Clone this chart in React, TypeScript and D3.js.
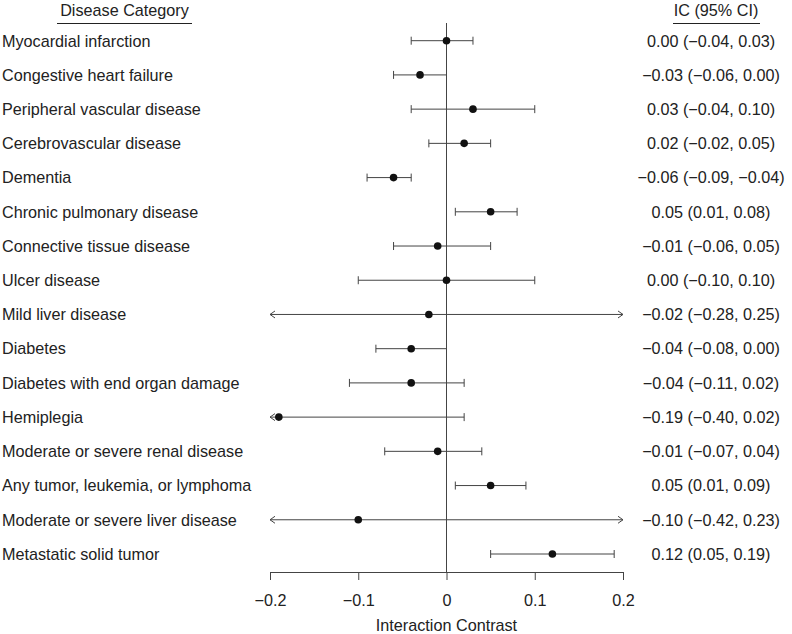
import React, { useEffect, useRef } from "react";
import * as d3 from "d3";

const categories = [
  "Myocardial infarction",
  "Congestive heart failure",
  "Peripheral vascular disease",
  "Cerebrovascular disease",
  "Dementia",
  "Chronic pulmonary disease",
  "Connective tissue disease",
  "Ulcer disease",
  "Mild liver disease",
  "Diabetes",
  "Diabetes with end organ damage",
  "Hemiplegia",
  "Moderate or severe renal disease",
  "Any tumor, leukemia, or lymphoma",
  "Moderate or severe liver disease",
  "Metastatic solid tumor",
];
const estimates = [0.0, -0.03, 0.03, 0.02, -0.06, 0.05, -0.01, 0.0, -0.02, -0.04, -0.04, -0.19, -0.01, 0.05, -0.1, 0.12];
const lowers = [-0.04, -0.06, -0.04, -0.02, -0.09, 0.01, -0.06, -0.1, -0.28, -0.08, -0.11, -0.4, -0.07, 0.01, -0.42, 0.05];
const uppers = [0.03, 0.0, 0.1, 0.05, -0.04, 0.08, 0.05, 0.1, 0.25, 0.0, 0.02, 0.02, 0.04, 0.09, 0.23, 0.19];
const xTicks = [-0.2, -0.1, 0, 0.1, 0.2];

const W = 792;
const H = 634;
const FONT = "'Liberation Sans', Arial, Helvetica, sans-serif";
const FS = 16.2;
const INK = "#222";
const LINE = "#444";

const fmt = (v: number, d = 2) => {
  const s = Math.abs(v).toFixed(d);
  return (v < -0.00001 ? "\u2212" : "") + s;
};
const tickFmt = (v: number) => (v === 0 ? "0" : (v < 0 ? "\u2212" : "") + Math.abs(v).toFixed(1));

export default function App() {
  const ref = useRef<SVGSVGElement>(null);

  useEffect(() => {
    const svg = d3.select(ref.current);
    svg.selectAll("*").remove();

    const x = d3.scaleLinear().domain([-0.2, 0.2]).range([270, 623]);
    const y = d3.scalePoint<string>().domain(categories).range([40.7, 554]);
    const axisY = 572;
    const [xmin, xmax] = x.domain();

    const rows = categories.map((c, i) => ({
      cat: c,
      est: estimates[i],
      lo: lowers[i],
      hi: uppers[i],
    }));

    // headers
    const head = svg.append("g").attr("font-family", FONT).attr("font-size", FS).attr("fill", INK);
    head.append("text").attr("x", 124.5).attr("y", 16).attr("text-anchor", "middle").text("Disease Category");
    head.append("line").attr("x1", 57).attr("x2", 192).attr("y1", 23.5).attr("y2", 23.5).attr("stroke", INK);
    head.append("text").attr("x", 716).attr("y", 16).attr("text-anchor", "middle").text("IC (95% CI)");
    head.append("line").attr("x1", 673).attr("x2", 760).attr("y1", 23.5).attr("y2", 23.5).attr("stroke", INK);

    // zero line
    svg
      .append("line")
      .attr("x1", x(0))
      .attr("x2", x(0))
      .attr("y1", 23)
      .attr("y2", axisY)
      .attr("stroke", LINE)
      .attr("stroke-width", 1);

    // labels
    svg
      .append("g")
      .attr("font-family", FONT)
      .attr("font-size", FS)
      .attr("fill", INK)
      .selectAll("text")
      .data(rows)
      .join("text")
      .attr("x", 2)
      .attr("y", (d) => (y(d.cat) as number) + 5.8)
      .text((d) => d.cat);

    svg
      .append("g")
      .attr("font-family", FONT)
      .attr("font-size", FS)
      .attr("fill", INK)
      .attr("text-anchor", "middle")
      .selectAll("text")
      .data(rows)
      .join("text")
      .attr("x", 711)
      .attr("y", (d) => (y(d.cat) as number) + 5.8)
      .text((d) => `${fmt(d.est)} (${fmt(d.lo)}, ${fmt(d.hi)})`);

    // CI lines
    const ci = svg.append("g").attr("stroke", LINE).attr("stroke-width", 1).attr("fill", "none");
    rows.forEach((d) => {
      const cy = y(d.cat) as number;
      const lo = Math.max(d.lo, xmin);
      const hi = Math.min(d.hi, xmax);
      ci.append("line").attr("x1", x(lo)).attr("x2", x(hi)).attr("y1", cy).attr("y2", cy);
      const cap = 4;
      const arrow = 5;
      if (d.lo < xmin) {
        ci.append("path").attr("d", `M${x(lo) + arrow},${cy - arrow * 0.7}L${x(lo)},${cy}L${x(lo) + arrow},${cy + arrow * 0.7}`);
      } else {
        ci.append("line").attr("x1", x(lo)).attr("x2", x(lo)).attr("y1", cy - cap).attr("y2", cy + cap);
      }
      if (d.hi > xmax) {
        ci.append("path").attr("d", `M${x(hi) - arrow},${cy - arrow * 0.7}L${x(hi)},${cy}L${x(hi) - arrow},${cy + arrow * 0.7}`);
      } else {
        ci.append("line").attr("x1", x(hi)).attr("x2", x(hi)).attr("y1", cy - cap).attr("y2", cy + cap);
      }
    });

    // points
    svg
      .append("g")
      .selectAll("circle")
      .data(rows)
      .join("circle")
      .attr("cx", (d) => x(d.est))
      .attr("cy", (d) => y(d.cat) as number)
      .attr("r", 3.8)
      .attr("fill", "#111");

    // axis
    const axis = svg
      .append("g")
      .attr("transform", `translate(0,${axisY})`)
      .call(
        d3
          .axisBottom(x)
          .tickValues(xTicks)
          .tickFormat((v) => tickFmt(v as number))
          .tickSizeOuter(0)
          .tickSize(8)
          .tickPadding(14)
      );
    axis.select(".domain").attr("stroke", LINE);
    axis.selectAll(".tick line").attr("stroke", LINE);
    axis.selectAll(".tick text").attr("font-family", FONT).attr("font-size", FS).attr("fill", INK);

    svg
      .append("text")
      .attr("x", x(0))
      .attr("y", 631)
      .attr("text-anchor", "middle")
      .attr("font-family", FONT)
      .attr("font-size", FS)
      .attr("fill", INK)
      .text("Interaction Contrast");
  }, []);

  return (
    <svg
      ref={ref}
      width={W}
      height={H}
      style={{ position: "absolute", left: 0, top: 0, background: "#fff" }}
    />
  );
}
